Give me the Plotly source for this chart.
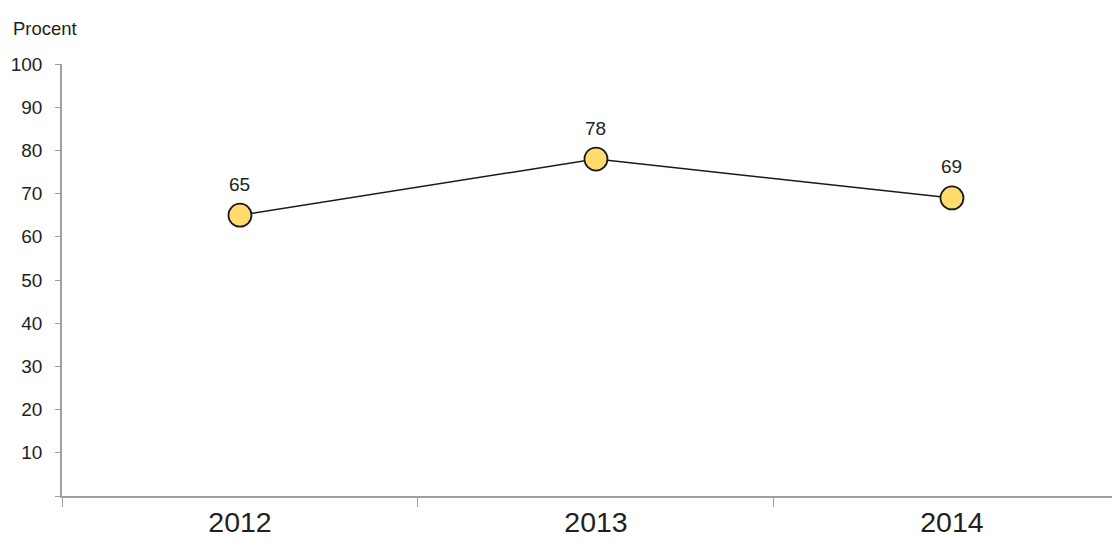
import plotly.graph_objects as go

years = ['2012', '2013', '2014']
values = [65, 78, 69]
y_ticks = [0, 10, 20, 30, 40, 50, 60, 70, 80, 90, 100]
y_labels = [''] + [str(v) for v in y_ticks[1:]]

txt = '#231f20'
axis_grey = '#a0a0a0'

fig = go.Figure()
fig.add_trace(go.Scatter(
    x=years, y=values, mode='lines+markers',
    line=dict(color='#1a1a1a', width=1.5),
    marker=dict(size=23, color='#FFDC6B', line=dict(color='#1a1a1a', width=1.8)),
    hoverinfo='skip', showlegend=False,
))

# value labels above the points (category index positions)
for i, v in enumerate(values):
    fig.add_annotation(x=i, y=v, text=str(v), showarrow=False, yshift=31,
                       font=dict(size=19, color=txt, family='Liberation Sans'))

fig.add_annotation(text='Procent', xref='paper', yref='paper', x=-0.0485, y=1.0,
                   xanchor='left', yanchor='middle', yshift=36, showarrow=False,
                   font=dict(size=18.5, color=txt, family='Liberation Sans'))

fig.update_xaxes(
    type='category', range=[-0.5, 2.472], tickson='boundaries',
    ticks='outside', ticklen=9, tickcolor=axis_grey, tickwidth=1,
    showline=True, linecolor=axis_grey, linewidth=1.5, showgrid=False,
    tickfont=dict(size=28.5, color=txt, family='Liberation Sans'),
)
fig.update_yaxes(
    range=[0, 100], tickmode='array', tickvals=y_ticks, ticktext=y_labels,
    ticks='outside', ticklen=5, tickcolor=axis_grey, tickwidth=1,
    showline=True, linecolor=axis_grey, linewidth=1.5, showgrid=False, zeroline=False,
    ticklabelstandoff=9,
    tickfont=dict(size=19, color=txt, family='Liberation Sans'),
)

# page body adds 8px offset, so the figure is shrunk to fit the window
fig.update_layout(
    width=1112, height=532, margin=dict(l=54, r=0, t=56, b=44),
    paper_bgcolor='white', plot_bgcolor='white',
)

fig.write_html('out.html')
